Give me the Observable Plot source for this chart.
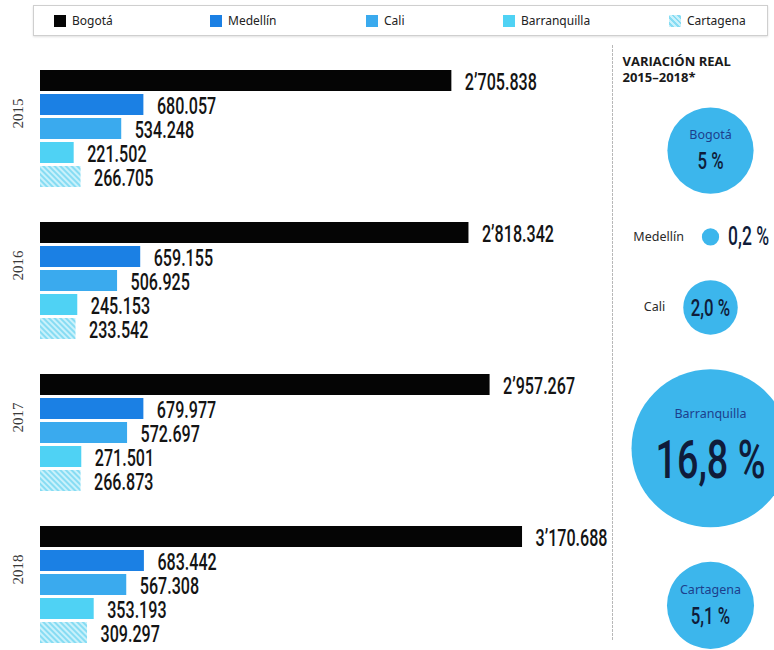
<!DOCTYPE html>
<html>
<head>
<meta charset="utf-8">
<script src="https://cdn.jsdelivr.net/npm/d3@7"></script>
<script src="https://cdn.jsdelivr.net/npm/@observablehq/plot@0.6"></script>
<style>
  html, body { margin: 0; padding: 0; background: #fff; overflow: hidden; }
  body { width: 774px; height: 650px; position: relative; }
  #legend {
    position: absolute; top: 5px; left: 33px; width: 735px; height: 31px;
    border: 1px solid #cfcfcf; box-shadow: 0 1px 2px rgba(0,0,0,0.12);
    display: grid; grid-template-columns: 156px 156px 137px 166px auto;
    align-items: center; padding-left: 20px; box-sizing: border-box;
    font-family: "Noto Sans", sans-serif; font-size: 12px; color: #222;
  }
  #legend .item { display: flex; align-items: center; }
  #legend .sw { width: 12px; height: 12px; margin-right: 6px; display: inline-block; }
  #bars { position: absolute; top: 45px; left: 0; width: 612px; }
  #bubbles { position: absolute; top: 45px; left: 600px; width: 208px; }
</style>
</head>
<body>
<div id="legend"></div>
<div id="bars"></div>
<div id="bubbles"></div>
<script>
// ---- Data ----
const years = [2015, 2016, 2017, 2018];
const cities = ["Bogotá", "Medellín", "Cali", "Barranquilla", "Cartagena"];
const bogota = [2705838, 2818342, 2957267, 3170688];
const medellin = [680057, 659155, 679977, 683442];
const cali = [534248, 506925, 572697, 567308];
const barranquilla = [221502, 245153, 271501, 353193];
const cartagena = [266705, 233542, 266873, 309297];
const variacion = [5, 0.2, 2.0, 16.8, 5.1];
const variacionLabels = ["5 %", "0,2 %", "2,0 %", "16,8 %", "5,1 %"];
const panelTitle = "VARIACIÓN REAL\n2015–2018*";

// ---- Styles ----
const cityColors = ["#050505", "#1b80e4", "#3aaaee", "#4fd2f4", "url(#hatch)"];
const legendColors = ["#050505", "#1b80e4", "#3aaaee", "#4fd2f4",
  "repeating-linear-gradient(45deg, #c9f1fb 0 2px, #86dcf3 2px 4px)"];
const numFont = "Roboto, sans-serif";
const SQUEEZE = 0.7;

const series = [bogota, medellin, cali, barranquilla, cartagena];
const table = years.flatMap((yr, i) => cities.map((c, j) => ({year: yr, city: c, value: series[j][i]})));

function fmt(v) {
  const parts = d3.format(",")(v).split(",");
  if (parts.length === 3) return parts[0] + "’" + parts[1] + "." + parts[2];
  return parts.join(".");
}

// condense number texts horizontally (no condensed font installed)
function squeeze(svg) {
  d3.select(svg).selectAll("g[font-family^='Roboto'] text").each(function () {
    const t = d3.select(this);
    let tr = t.attr("transform");
    if (!tr) {
      const x = +t.attr("x") || 0, y = +t.attr("y") || 0;
      t.attr("x", null).attr("y", null);
      tr = `translate(${x},${y})`;
    }
    t.attr("transform", tr + ` scale(${SQUEEZE},1)`);
  });
}

// ---- Legend ----
const legend = document.getElementById("legend");
cities.forEach((c, i) => {
  const it = document.createElement("div");
  it.className = "item";
  it.innerHTML = `<span class="sw" style="background:${legendColors[i]}"></span><span>${c}</span>`;
  legend.appendChild(it);
});

// ---- Bars ----
const bars = Plot.plot({
  width: 612,
  height: 605,
  marginLeft: 40,
  marginRight: 9.5,
  marginTop: 23,
  marginBottom: 5,
  style: {overflow: "visible"},
  x: {domain: [0, 3700000], axis: null},
  y: {domain: cities, paddingInner: 0.14, paddingOuter: 0, axis: null},
  fy: {domain: years, paddingInner: 0.21, paddingOuter: 0, axis: null},
  color: {domain: cities, range: cityColors},
  marks: [
    Plot.barX(table, {fy: "year", y: "city", x: "value", fill: "city"}),
    Plot.text(table, {
      fy: "year", y: "city", x: "value", text: d => fmt(d.value),
      textAnchor: "start", dx: 13, dy: 1.5, fontSize: 23, fontWeight: 500, fill: "#141414",
      fontFamily: numFont
    }),
    Plot.text(years, {
      fy: d => d, text: d => String(d), frameAnchor: "left", rotate: -90, dx: -22,
      fontSize: 15, fill: "#3a3a3a", fontFamily: "'Liberation Serif', 'DejaVu Serif', serif"
    })
  ]
});
d3.select(bars).insert("defs", ":first-child").html(
  `<pattern id="hatch" width="4" height="4" patternUnits="userSpaceOnUse" patternTransform="rotate(-45)">
     <rect width="4" height="4" fill="#c9f1fb"></rect>
     <rect width="2" height="4" fill="#86dcf3"></rect>
   </pattern>`);
squeeze(bars);
document.getElementById("bars").appendChild(bars);

// ---- Bubbles ----
const RMAX = 79, VMAX = 16.8, CX = 110, TOP = 62, GAP = 34.6;
const rad = v => RMAX * Math.sqrt(v / VMAX);
let cursor = TOP;
const bubbles = cities.map((c, i) => {
  const r = rad(variacion[i]);
  const cy = cursor + r;
  cursor = cy + r + GAP;
  return {city: c, pct: variacion[i], label: variacionLabels[i], r, cy};
});
const inside = d => d.r > 35;
const valueInside = d => d.r > 20;
const huge = d => d.r > 60;

const bub = Plot.plot({
  width: 208,
  height: 605,
  marginLeft: 12,
  marginRight: 0,
  marginTop: 0,
  marginBottom: 10,
  style: {background: "transparent", overflow: "visible"},
  x: {type: "identity", axis: null},
  y: {type: "identity", axis: null},
  r: {type: "sqrt", domain: [0, VMAX], range: [0, RMAX]},
  marks: [
    Plot.frame({anchor: "left", stroke: "#b8b8b8", strokeDasharray: "2,2"}),
    Plot.text([panelTitle], {
      frameAnchor: "top-left", dx: 10, dy: 8, fontSize: 13, fontWeight: "bold",
      lineHeight: 1.3, fill: "#1a1a1a", fontFamily: "'Open Sans', 'Noto Sans', sans-serif"
    }),
    Plot.dot(bubbles, {x: () => CX, y: "cy", r: "pct", fill: "#3cb6ec", stroke: null}),
    // names inside big bubbles
    Plot.text(bubbles.filter(inside), {
      x: () => CX, y: d => huge(d) ? d.cy - 34 : d.cy - d.r * 0.36, text: "city",
      fontSize: 12.5, fill: "#1d3f8c", fontFamily: "'Noto Sans', sans-serif"
    }),
    // names to the left of small bubbles
    Plot.text(bubbles.filter(d => !inside(d)), {
      x: d => CX - d.r - 18, y: "cy", text: "city", textAnchor: "end",
      fontSize: 12.5, fill: "#2a2a2a", fontFamily: "'Noto Sans', sans-serif"
    }),
    // values inside
    Plot.text(bubbles.filter(valueInside), {
      x: () => CX, y: d => huge(d) ? d.cy + 12 : inside(d) ? d.cy + 11 : d.cy + 1, text: "label",
      fontSize: d => huge(d) ? 54 : 24, fontWeight: 500, fill: "#0f1c3a", fontFamily: numFont
    }),
    // values outside
    Plot.text(bubbles.filter(d => !valueInside(d)), {
      x: d => CX + d.r + 9, y: "cy", text: "label", textAnchor: "start",
      fontSize: 25, fontWeight: 500, fill: "#0f1c3a", fontFamily: numFont
    })
  ]
});
squeeze(bub);
document.getElementById("bubbles").appendChild(bub);
</script>
</body>
</html>
